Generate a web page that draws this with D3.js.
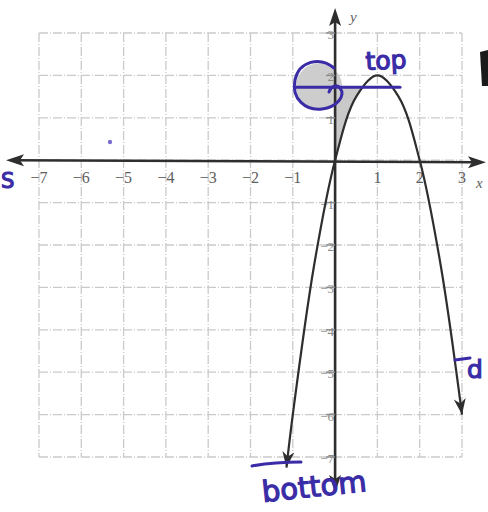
<!DOCTYPE html>
<html>
<head>
<meta charset="utf-8">
<script src="https://cdn.jsdelivr.net/npm/d3@7"></script>
<style>
  html, body { margin: 0; padding: 0; background: #fff; }
  svg { display: block; }
</style>
</head>
<body>
<div id="chart"></div>
<script>
// Graph range and tick labels
const xTicks = [-7, -6, -5, -4, -3, -2, -1, 1, 2, 3];
const yTicks = [3, 2, 1, -1, -2, -3, -4, -5, -6, -7];
const gridX = [-7, -6, -5, -4, -3, -2, -1, 0, 1, 2, 3];
const gridY = [3, 2, 1, 0, -1, -2, -3, -4, -5, -6, -7];

// Points along the parabola
const curveX = [-1.15, -1, -0.5, 0, 0.5, 1, 1.5, 2, 2.5, 3];
const curveY = [-7.25, -6, -2.5, 0, 1.5, 2, 1.5, 0, -2.5, -6];

// Horizontal "top" marker level
const topLevel = 1.72;

const W = 488, H = 512;
const svg = d3.select("#chart").append("svg").attr("width", W).attr("height", H);

const x = d3.scaleLinear().domain([-7, 3]).range([39, 462]);
const y = d3.scaleLinear().domain([3, -7]).range([33, 457]);

const ink = "#3a2ca6";
const axisInk = "#2e2e2e";

// Grid of dashed light lines
const grid = svg.append("g").attr("stroke", "#cacaca").attr("stroke-width", 1.3)
  .attr("stroke-dasharray", "9,2,1,2");
grid.selectAll("line.v").data(gridX).join("line").attr("class", "v")
  .attr("x1", d => x(d)).attr("x2", d => x(d)).attr("y1", y(3)).attr("y2", y(-7));
grid.selectAll("line.h").data(gridY).join("line").attr("class", "h")
  .attr("x1", x(-7)).attr("x2", x(3)).attr("y1", d => y(d)).attr("y2", d => y(d));

const pts = curveX.map((v, i) => [v, curveY[i]]);
const lineGen = d3.line().x(d => x(d[0])).y(d => y(d[1])).curve(d3.curveCatmullRom.alpha(0.5));

// Shade region: from origin up the y-axis to the marker, across to the curve, back down along it
const shadePath = svg.append("path").attr("fill", "#c9c9c9").attr("stroke", "none");

// Shading inside the ink loop
svg.append("ellipse")
  .attr("cx", x(-0.38)).attr("cy", y(topLevel) - 1)
  .attr("rx", 23).attr("ry", 23)
  .attr("fill", "#cdcdcd");

// Axes
const axes = svg.append("g").attr("stroke", axisInk).attr("stroke-width", 2.6);
axes.append("line").attr("x1", 12).attr("x2", 478).attr("y1", y(0)).attr("y2", y(0) + 2);
axes.append("line").attr("x1", x(0)).attr("x2", x(0)).attr("y1", 16).attr("y2", 484);
svg.append("path").attr("fill", axisInk)
  .attr("d", `M6,${y(0)} L24,${y(0) - 6} L20,${y(0)} L24,${y(0) + 6} Z`);
svg.append("path").attr("fill", axisInk)
  .attr("d", `M486,${y(0) + 2} L468,${y(0) - 4} L472,${y(0) + 2} L468,${y(0) + 8} Z`);
svg.append("path").attr("fill", axisInk)
  .attr("d", `M${x(0)},8 L${x(0) - 6},26 L${x(0)},22 L${x(0) + 6},26 Z`);
svg.append("path").attr("fill", axisInk)
  .attr("d", `M${x(0)},493 L${x(0) - 6},475 L${x(0)},479 L${x(0) + 6},475 Z`);

// Tick labels
const lblColor = "#5e5e5e";
svg.append("g").selectAll("text").data(xTicks).join("text")
  .attr("x", d => x(d)).attr("y", y(0) + 23)
  .attr("text-anchor", "middle")
  .attr("font-family", "Liberation Serif, serif").attr("font-size", 16)
  .attr("fill", lblColor)
  .text(d => d < 0 ? "\u2212" + Math.abs(d) : d);

svg.append("g").selectAll("line").data(yTicks).join("line")
  .attr("x1", x(0) - 9).attr("x2", x(0)).attr("y1", d => y(d)).attr("y2", d => y(d))
  .attr("stroke", "#8a8a8a").attr("stroke-width", 1.5);
svg.append("g").selectAll("text").data(yTicks).join("text")
  .attr("x", x(0) - 1).attr("y", d => y(d) + 6)
  .attr("text-anchor", "end")
  .attr("font-family", "Liberation Serif, serif").attr("font-size", 13)
  .attr("fill", "#8a8a8a")
  .text(d => d < 0 ? "\u2212" + Math.abs(d) : d);

svg.append("text").attr("x", x(0) + 15).attr("y", 22)
  .attr("font-family", "Liberation Serif, serif").attr("font-size", 15).attr("font-style", "italic")
  .attr("fill", lblColor).text("y");
svg.append("text").attr("x", 476).attr("y", y(0) + 28)
  .attr("font-family", "Liberation Serif, serif").attr("font-size", 15).attr("font-style", "italic")
  .attr("fill", lblColor).text("x");

// Parabola
svg.append("path").datum(pts)
  .attr("fill", "none").attr("stroke", axisInk).attr("stroke-width", 2.2)
  .attr("d", lineGen);

// Build shade path from the drawn curve geometry
(function () {
  const curvePath = svg.append("path").datum(pts).attr("d", lineGen).attr("fill", "none").attr("stroke", "none");
  const node = curvePath.node();
  const len = node.getTotalLength();
  const seg = [];
  const x0 = x(0), yTop = y(topLevel);
  for (let s = 0; s <= len; s += 1) {
    const p = node.getPointAtLength(s);
    if (p.x >= x0 && p.y >= yTop && p.x < x(1)) seg.push([p.x, p.y]);
  }
  const d = `M${x0},${y(0)} L${x0},${yTop} ` + seg.slice().reverse().map(p => `L${p[0]},${p[1]}`).join(" ") + " Z";
  shadePath.attr("d", d);
  curvePath.remove();
})();

// Arrowheads at the ends of the parabola
function arrowAt(i0, i1) {
  const p1 = [x(curveX[i1]), y(curveY[i1])], p0 = [x(curveX[i0]), y(curveY[i0])];
  const ang = Math.atan2(p1[1] - p0[1], p1[0] - p0[0]);
  const L = 16, Wd = 6;
  const bx = p1[0] - L * Math.cos(ang), by = p1[1] - L * Math.sin(ang);
  const nx = -Math.sin(ang) * Wd, ny = Math.cos(ang) * Wd;
  svg.append("path").attr("fill", axisInk)
    .attr("d", `M${p1[0]},${p1[1]} L${bx + nx},${by + ny} L${bx + 0.3 * Math.cos(ang) * L},${by + 0.3 * Math.sin(ang) * L} L${bx - nx},${by - ny} Z`);
}
arrowAt(1, 0);
arrowAt(8, 9);

// Blue ink annotations
const note = svg.append("g").attr("fill", "none").attr("stroke", ink)
  .attr("stroke-width", 3).attr("stroke-linecap", "round");
note.append("line").attr("x1", 296).attr("x2", 400)
  .attr("y1", y(topLevel)).attr("y2", y(topLevel));
note.append("path")
  .attr("d", "M334,68 C320,56 299,61 295,80 C291,99 306,111 322,109 C337,107 346,96 340,88 C337,84 331,86 329,92");
note.append("path").attr("d", "M252,466 C268,463 285,462 301,462");
note.append("path").attr("d", "M455,360 L470,358");
svg.append("circle").attr("cx", 110).attr("cy", 142).attr("r", 2.2).attr("fill", "#7a6fd0");

const hand = { "font-family": "DejaVu Sans, sans-serif", "fill": ink, "stroke": ink, "stroke-width": 1.2 };
function handText(t, xp, yp, size, rot) {
  const el = svg.append("text").attr("x", xp).attr("y", yp).attr("font-size", size).text(t);
  Object.entries(hand).forEach(([k, v]) => el.attr(k, v));
  if (rot) el.attr("transform", `rotate(${rot},${xp},${yp})`);
  return el;
}
handText("top", 366, 70, 25, -3);
handText("bottom", 263, 502, 29, -6);
handText("d", 467, 378, 25, 0);
handText("S", 1, 188, 21, 0);

// Edge of the neighbouring black print
svg.append("path").attr("fill", "#1a1a1a")
  .attr("d", "M480,52 L488,50 L488,86 L482,86 Z");
</script>
</body>
</html>
